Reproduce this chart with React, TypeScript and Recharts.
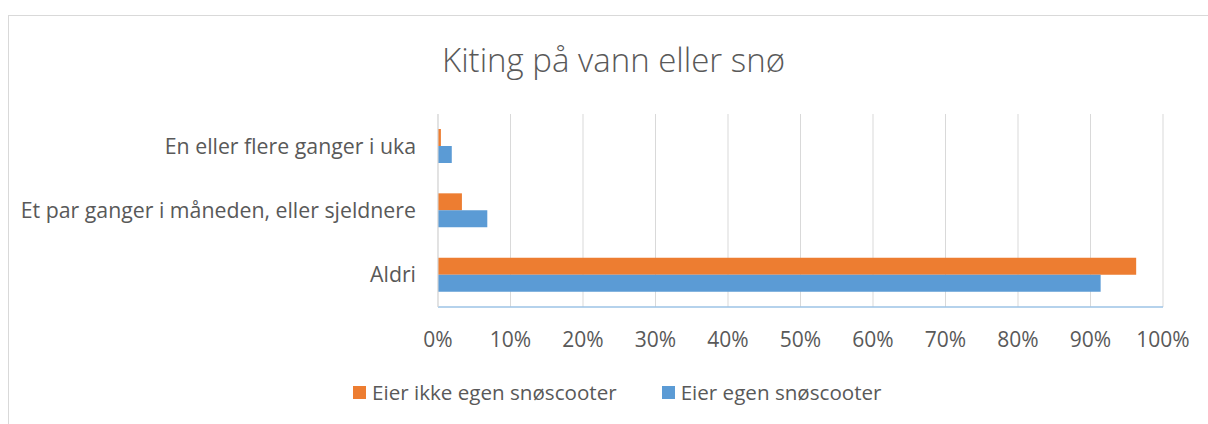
import { BarChart, Bar, XAxis, YAxis, CartesianGrid } from 'recharts'

const categories = [
  'En eller flere ganger i uka',
  'Et par ganger i måneden, eller sjeldnere',
  'Aldri',
]
const seriesNames = ['Eier ikke egen snøscooter', 'Eier egen snøscooter']
const eierIkke = [0.004, 0.033, 0.963]
const eier = [0.019, 0.068, 0.914]
const xTicks = [0, 0.1, 0.2, 0.3, 0.4, 0.5, 0.6, 0.7, 0.8, 0.9, 1]

const colors = ['#ED7D31', '#5B9BD5']
const textColor = '#595959'
const font = '"Open Sans", Lato, sans-serif'

const data = categories.map((name, i) => ({ name, eierIkke: eierIkke[i], eier: eier[i] }))

export default function App() {
  return (
    <div style={{ position: 'absolute', left: 0, top: 0, width: 1208, height: 424, background: '#fff', overflow: 'hidden', fontFamily: font }}>
      <div style={{ position: 'absolute', left: 8, top: 15, width: 1300, height: 500, border: '1px solid #d9d9d9' }} />
      <div style={{ position: 'absolute', left: 0, top: 37, width: 1227, textAlign: 'center', fontSize: 33, color: textColor, fontWeight: 300 }}>
        Kiting på vann eller snø
      </div>
      <div style={{ position: 'absolute', left: 0, top: 0 }}>
        <BarChart
          width={1208}
          height={424}
          data={data}
          layout="vertical"
          margin={{ top: 114, right: 45, left: 0, bottom: 0 }}
          barGap={0}
        >
          <CartesianGrid horizontal={false} stroke="#d9d9d9" />
          <XAxis
            type="number"
            domain={[0, 1]}
            ticks={xTicks}
            interval={0}
            tickFormatter={(v: number) => `${Math.round(v * 100)}%`}
            axisLine={{ stroke: '#9dc3e6', strokeWidth: 1.5 }}
            tickLine={false}
            tick={{ fill: textColor, fontSize: 21, fontFamily: font }}
            tickMargin={19}
            height={117}
          />
          <YAxis
            type="category"
            dataKey="name"
            width={438}
            axisLine={{ stroke: '#d9d9d9' }}
            tickLine={false}
            tick={{ fill: textColor, fontSize: 21.3, fontFamily: font }}
            tickMargin={16}
          />
          <Bar dataKey="eierIkke" name={seriesNames[0]} fill={colors[0]} barSize={17} isAnimationActive={false} />
          <Bar dataKey="eier" name={seriesNames[1]} fill={colors[1]} barSize={17} isAnimationActive={false} />
        </BarChart>
      </div>
      <div style={{ position: 'absolute', top: 378, left: 353, display: 'flex', alignItems: 'center', fontSize: 20.6, color: textColor }}>
        {seriesNames.map((n, i) => (
          <div key={n} style={{ display: 'flex', alignItems: 'center', marginRight: i === 0 ? 45 : 0 }}>
            <span style={{ display: 'inline-block', width: 13, height: 13, background: colors[i], marginRight: 6 }} />
            <span>{n}</span>
          </div>
        ))}
      </div>
    </div>
  )
}
